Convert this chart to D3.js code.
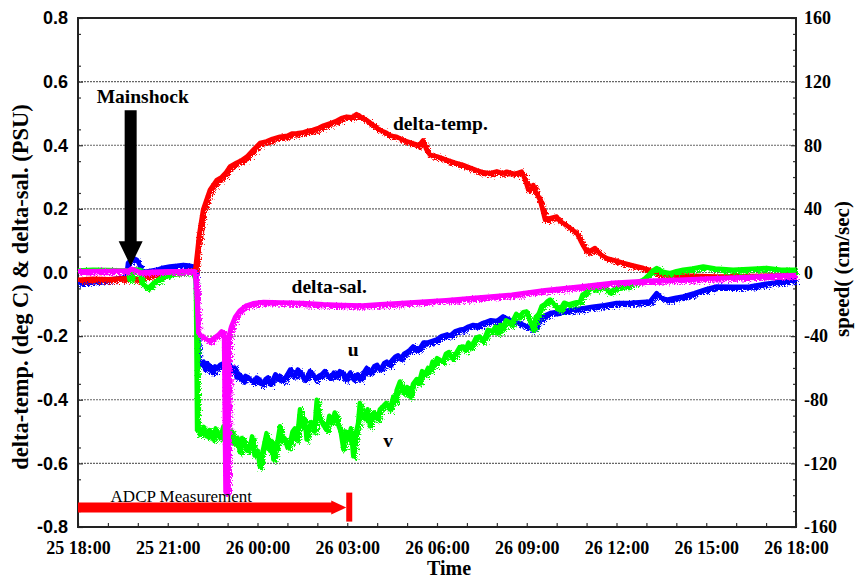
<html>
<head>
<meta charset="utf-8">
<script src="https://d3js.org/d3.v7.min.js"></script>
<style>
  body { margin: 0; background: #fff; }
</style>
</head>
<body>
<svg id="chart" width="855" height="578"></svg>
<script>
// hours after 25 18:00
const timeLabels = ["25 18:00", "25 21:00", "26 00:00", "26 03:00", "26 06:00",
                    "26 09:00", "26 12:00", "26 15:00", "26 18:00"];
const leftTicks = [-0.8, -0.6, -0.4, -0.2, 0.0, 0.2, 0.4, 0.6, 0.8];
const rightTicks = [-160, -120, -80, -40, 0, 40, 80, 120, 160];
const gridTicks = [-0.6, -0.4, -0.2, 0.0, 0.2, 0.4, 0.6];

// delta-temp (deg C)
const tempData = [[0,-0.023],[0.5,-0.02],[1,-0.021],[1.5,-0.018],[1.7,-0.02],[1.8,-0.016],[2.0,-0.022],[2.3,-0.01],[3.0,-0.002],[3.5,0.003],[3.85,0.006],[3.92,0.01],
  [3.98,0.06],[4.05,0.12],[4.1,0.15],[4.18,0.197],[4.3,0.23],[4.41,0.26],[4.52,0.275],[4.63,0.29],[4.8,0.3],[4.95,0.315],[5.08,0.333],[5.3,0.345],[5.45,0.352],[5.64,0.364],[5.85,0.385],
  [6.08,0.407],[6.3,0.412],[6.5,0.42],[6.75,0.427],[7.0,0.43],[7.15,0.437],[7.31,0.438],[7.5,0.44],[7.7,0.446],[7.85,0.448],[8.05,0.455],[8.2,0.462],[8.42,0.469],[8.6,0.475],[8.8,0.485],
  [8.98,0.49],[9.15,0.488],[9.31,0.498],[9.45,0.49],[9.65,0.479],[9.85,0.465],[10.09,0.448],[10.3,0.44],[10.45,0.43],[10.65,0.427],[10.9,0.415],[11.2,0.406],[11.4,0.4],[11.53,0.415],
  [11.65,0.385],[11.76,0.37],[12.0,0.365],[12.32,0.354],[12.6,0.345],[12.87,0.338],[13.1,0.33],[13.32,0.322],[13.55,0.315],[13.77,0.312],[14.0,0.318],[14.2,0.312],[14.33,0.317],
  [14.6,0.31],[14.83,0.317],[14.95,0.29],[15.05,0.26],[15.15,0.262],[15.22,0.275],[15.32,0.25],[15.44,0.228],[15.52,0.2],[15.61,0.166],[15.75,0.17],[16.0,0.176],[16.1,0.162],
  [16.22,0.155],[16.45,0.14],[16.67,0.124],[16.85,0.09],[17.0,0.066],[17.15,0.07],[17.28,0.077],[17.45,0.058],[17.67,0.045],[17.95,0.038],[18.23,0.03],[18.55,0.022],[18.9,0.014],
  [19.1,0.008],[19.34,-0.002],[19.8,-0.008],[20.5,-0.01],[21.35,-0.0125],[22.5,-0.011],[23.5,-0.009],[24,-0.007]];

// delta-sal (PSU)
const salData = [[0,0.004],[1.0,0.005],[1.7,0.006],[1.78,0.012],[1.9,0.008],[2.1,0.0],[2.5,0.002],[3.0,0.004],[3.9,0.004],[3.96,-0.05],[4.02,-0.19],[4.13,-0.2],[4.3,-0.21],
  [4.4,-0.217],[4.55,-0.205],[4.7,-0.195],[4.8,-0.185],[4.88,-0.19],[4.93,-0.69],[5.0,-0.69],[5.04,-0.2],[5.12,-0.17],[5.25,-0.14],[5.4,-0.12],[5.6,-0.105],[5.85,-0.097],
  [6.2,-0.093],[6.8,-0.094],[7.5,-0.096],[8.2,-0.1],[8.8,-0.102],[9.5,-0.104],[10.1,-0.1],[10.7,-0.097],[11.5,-0.092],[12.3,-0.087],[13.2,-0.08],[14.5,-0.07],[15.6,-0.056],
  [16.8,-0.044],[17.9,-0.032],[19.1,-0.026],[20.3,-0.022],[21.3,-0.018],[22.6,-0.013],[24,-0.008]];

// u (cm/sec)
const uData = [[0,-6.5],[0.5,-5.5],[1.0,-4.5],[1.5,-3.3],[1.62,-2],[1.67,6],[1.84,9],[1.97,8],[2.05,5],[2.13,0.6],[2.3,0.6],[2.63,1.7],[2.85,3],[3.07,3.8],[3.3,4.2],[3.52,4.8],
  [3.7,4.4],[3.85,3.8],[3.93,2],[3.98,-40],[4.02,-55],[4.08,-57],[4.13,-58],[4.2,-56],[4.25,-61],[4.32,-57],[4.4,-59],[4.46,-62],[4.52,-63],[4.58,-59],[4.65,-60],[4.75,-58],
  [4.86,-57],[4.95,-59],[5.02,-56],[5.08,-58],[5.14,-61],[5.2,-62],[5.25,-60],[5.3,-66],[5.4,-64],[5.5,-68],[5.6,-65],[5.7,-66],[5.8,-68],[5.9,-69],[5.97,-66],[6.05,-67],
  [6.12,-70],[6.19,-69.5],[6.27,-67],[6.35,-66],[6.42,-70],[6.5,-68],[6.6,-64],[6.68,-67],[6.75,-65],[6.82,-68],[6.9,-67],[7.0,-64],[7.09,-61],[7.16,-64],[7.25,-65],[7.35,-61],
  [7.45,-63],[7.55,-67],[7.65,-66],[7.75,-62],[7.86,-64],[7.95,-67],[8.05,-65],[8.15,-64],[8.25,-62],[8.35,-65],[8.45,-66],[8.55,-63],[8.65,-65],[8.75,-62],[8.85,-63],[8.92,-67],
  [9.0,-66],[9.1,-63],[9.2,-67],[9.28,-65],[9.35,-64],[9.42,-67],[9.5,-65],[9.58,-62],[9.65,-60],[9.72,-63],[9.8,-62],[9.9,-59],[10.0,-58],[10.08,-61],[10.15,-60],[10.23,-57],
  [10.32,-56],[10.4,-58],[10.5,-55],[10.6,-53],[10.7,-52],[10.8,-54],[10.9,-51],[11.0,-50],[11.1,-48.5],[11.2,-46.5],[11.3,-49],[11.45,-47],[11.55,-44],[11.7,-44],[11.85,-43],
  [12.0,-42],[12.15,-40],[12.32,-39],[12.45,-39.5],[12.6,-37],[12.75,-36],[12.9,-35.5],[13.05,-34],[13.21,-33],[13.35,-33.5],[13.5,-32],[13.65,-31],[13.8,-30],[14.0,-30.5],
  [14.21,-27.6],[14.35,-29],[14.55,-30.8],[14.8,-32],[15.0,-34],[15.22,-36],[15.4,-30],[15.6,-27],[15.78,-25.5],[16.1,-24.5],[16.5,-23.5],[16.89,-22.4],[17.2,-21.5],[17.6,-20.5],
  [18.0,-19.2],[18.5,-19],[19.12,-18.2],[19.34,-12.9],[19.5,-16],[19.68,-17.1],[19.95,-16],[20.23,-15.1],[20.6,-13],[21.0,-10.5],[21.35,-8.8],[21.9,-9],[22.46,-8.8],[23.0,-7],
  [23.57,-5.7],[24,-4.6]];

// v (cm/sec)
const vData = [[0,1.3],[0.5,1.8],[1.0,1.5],[1.5,1.2],[1.67,1.3],[1.72,-4.6],[1.8,-4],[1.85,2],[2.07,1.7],[2.13,-6.7],[2.35,-9.8],[2.52,-6.7],[2.85,-2.5],[3.07,-0.4],[3.3,0.2],
  [3.52,0.6],[3.7,0.2],[3.85,-0.4],[3.94,-5],[3.98,-99],[4.02,-96],[4.08,-102],[4.13,-101],[4.2,-97],[4.3,-103],[4.4,-99],[4.52,-105],[4.6,-98],[4.65,-100],[4.75,-104],
  [4.86,-96.7],[4.92,-101],[4.97,-99],[5.03,-108],[5.08,-105],[5.15,-100],[5.25,-108],[5.33,-104],[5.41,-113],[5.48,-104],[5.55,-106],[5.65,-112],[5.75,-109],[5.82,-103],
  [5.9,-115],[6.0,-112],[6.08,-122],[6.14,-115],[6.2,-110],[6.3,-101],[6.36,-109],[6.42,-112],[6.48,-106],[6.53,-117.6],[6.6,-112],[6.65,-108],[6.75,-96.7],[6.82,-106],
  [6.9,-104],[7.0,-110],[7.09,-107],[7.17,-100],[7.25,-98],[7.32,-105],[7.42,-86],[7.47,-95],[7.52,-97],[7.58,-92],[7.64,-105],[7.72,-98],[7.8,-94],[7.9,-100],[7.98,-80],
  [8.04,-90],[8.1,-92],[8.2,-96],[8.31,-99],[8.4,-90],[8.5,-94],[8.58,-88],[8.65,-92.5],[8.72,-97],[8.78,-100],[8.87,-111],[8.95,-100],[9.05,-104],[9.12,-98],[9.2,-115.6],
  [9.25,-106],[9.3,-100],[9.36,-95],[9.42,-82],[9.5,-90],[9.6,-92],[9.68,-86],[9.76,-96.7],[9.83,-90],[9.9,-88],[10.0,-92],[10.09,-86],[10.2,-84],[10.3,-82],[10.42,-86],
  [10.54,-78],[10.6,-81],[10.65,-74],[10.76,-68.5],[10.83,-74],[10.9,-76],[11.0,-72],[11.1,-78],[11.2,-70],[11.32,-67],[11.4,-69],[11.5,-62],[11.6,-64],[11.7,-60],[11.78,-61],
  [11.85,-56],[11.92,-58],[12.0,-53.8],[12.1,-55],[12.2,-56],[12.3,-51],[12.4,-50],[12.5,-54],[12.6,-52],[12.75,-47],[12.88,-46.5],[12.95,-49],[13.05,-44],[13.12,-47],[13.2,-45],
  [13.3,-41],[13.43,-40.2],[13.52,-43],[13.6,-41],[13.7,-36],[13.85,-37],[13.95,-34],[14.05,-38],[14.12,-33],[14.21,-35],[14.3,-30],[14.4,-31],[14.48,-33],[14.55,-29.7],
  [14.65,-26],[14.75,-28],[14.88,-25],[15.0,-24.5],[15.1,-30],[15.22,-36],[15.3,-28],[15.4,-26],[15.5,-21],[15.6,-20],[15.7,-18],[15.78,-17],[15.87,-19],[15.95,-21],
  [16.11,-23.4],[16.25,-19],[16.4,-20],[16.6,-19],[16.78,-18.2],[16.86,-14],[16.95,-13],[17.03,-10],[17.11,-8.8],[17.25,-10],[17.4,-10],[17.6,-9],[17.75,-12],[17.89,-11],
  [18.05,-9],[18.2,-8],[18.35,-8.5],[18.5,-7],[18.7,-6],[18.9,-4.6],[19.1,-1],[19.2,1],[19.34,2.8],[19.55,0.5],[19.79,-0.4],[20.0,0.8],[20.23,1.7],[20.55,2.5],[20.9,3.8],
  [21.3,2.5],[21.9,1.7],[22.4,2.2],[23.02,2.8],[23.5,1.8],[24,1.7]];

const mainshockHour = 1.76;
const adcpEndHour = 9;

const svg = d3.select('svg#chart');
const plotL = 78, plotR = 796, plotT = 18, plotB = 527;

const x = d3.scaleLinear().domain([0, 24]).range([plotL, plotR]);
const yL = d3.scaleLinear().domain([-0.8, 0.8]).range([plotB, plotT]);
const yR = d3.scaleLinear().domain([-160, 160]).range([plotB, plotT]);

const serif = '"Liberation Serif", "Times New Roman", serif';
const sans = '"Liberation Sans", Arial, sans-serif';
const fmt1 = d => (d < 0 ? '-' : '') + Math.abs(d).toFixed(1);

// rough edges for the recorded traces: a displaced copy merged under the solid stroke
const defs = svg.append('defs');
const rough = defs.append('filter').attr('id', 'rough')
  .attr('filterUnits', 'userSpaceOnUse').attr('x', 0).attr('y', 0).attr('width', 855).attr('height', 578);
rough.append('feTurbulence').attr('type', 'turbulence').attr('baseFrequency', '0.8 0.6')
  .attr('numOctaves', 2).attr('seed', 3).attr('result', 'noise');
rough.append('feDisplacementMap').attr('in', 'SourceGraphic').attr('in2', 'noise')
  .attr('scale', 7).attr('xChannelSelector', 'R').attr('yChannelSelector', 'G').attr('result', 'shifted');
const merge = rough.append('feMerge');
merge.append('feMergeNode').attr('in', 'shifted');
merge.append('feMergeNode').attr('in', 'SourceGraphic');

// grid lines
svg.append('g').selectAll('line').data(gridTicks).join('line')
  .attr('x1', plotL).attr('x2', plotR)
  .attr('y1', d => yL(d)).attr('y2', d => yL(d))
  .attr('stroke', '#666').attr('stroke-width', 1.2).attr('stroke-dasharray', '2,1');

// axes
const xAxis = d3.axisBottom(x).tickValues(d3.range(0, 25)).tickSize(-4).tickPadding(14)
  .tickFormat(d => d % 3 === 0 ? timeLabels[d / 3] : '');
const gx = svg.append('g').attr('transform', `translate(0,${plotB})`).call(xAxis);
gx.selectAll('text').attr('font-family', serif).attr('font-weight', 'bold').attr('font-size', 18).attr('fill', '#000');

const yAxisL = d3.axisLeft(yL).tickValues(leftTicks).tickSize(-5).tickPadding(10).tickFormat(fmt1);
const gl = svg.append('g').attr('transform', `translate(${plotL},0)`).call(yAxisL);
gl.selectAll('text').attr('font-family', sans).attr('font-weight', 'bold').attr('font-size', 18).attr('fill', '#000');
svg.append('g').attr('transform', `translate(${plotL},0)`)
  .call(d3.axisLeft(yL).tickValues(d3.range(-0.75, 0.8, 0.1)).tickSize(-3).tickFormat(''));

const yAxisR = d3.axisRight(yR).tickValues(rightTicks).tickSize(-5).tickPadding(8)
  .tickFormat(d => (d < 0 ? '-' : '') + Math.abs(d));
const gr = svg.append('g').attr('transform', `translate(${plotR},0)`).call(yAxisR);
gr.selectAll('text').attr('font-family', serif).attr('font-weight', 'bold').attr('font-size', 18).attr('fill', '#000');
svg.append('g').attr('transform', `translate(${plotR},0)`)
  .call(d3.axisRight(yR).tickValues(d3.range(-150, 160, 10).filter(d => d % 40 !== 0)).tickSize(-3).tickFormat(''));

svg.selectAll('.domain').remove();
svg.selectAll('.tick line').attr('stroke', '#333').attr('stroke-width', 1.2);

// frame
svg.append('rect').attr('x', plotL).attr('y', plotT).attr('width', plotR - plotL).attr('height', plotB - plotT)
  .attr('fill', 'none').attr('stroke', '#222').attr('stroke-width', 2);

// series
const lineL = d3.line().x(d => x(d[0])).y(d => yL(d[1]));
const lineR = d3.line().x(d => x(d[0])).y(d => yR(d[1]));
const series = [
  {data: uData, gen: lineR, color: '#0000ff'},
  {data: tempData, gen: lineL, color: '#ff0000'},
  {data: vData, gen: lineR, color: '#00ff00'},
  {data: salData, gen: lineL, color: '#ff00ff'}
];
series.forEach(s => {
  svg.append('path').attr('d', s.gen(s.data)).attr('filter', 'url(#rough)')
    .attr('fill', 'none').attr('stroke', s.color).attr('stroke-width', 4.5)
    .attr('stroke-linejoin', 'round');
});

// mainshock arrow
const tipX = x(mainshockHour), tipY = yL(0.02), shaftTop = yL(0.51);
svg.append('path')
  .attr('d', `M${tipX - 6},${shaftTop} L${tipX + 6},${shaftTop} L${tipX + 6},${tipY - 25} L${tipX + 12},${tipY - 25}
              L${tipX},${tipY} L${tipX - 12},${tipY - 25} L${tipX - 6},${tipY - 25} Z`)
  .attr('fill', '#000');

// ADCP measurement arrow
const ay = yL(-0.739);
const ax1 = x(adcpEndHour) - 1;
svg.append('path')
  .attr('d', `M${x(0)},${ay - 5} L${ax1 - 15},${ay - 5} L${ax1 - 15},${ay - 7} L${ax1},${ay}
              L${ax1 - 15},${ay + 7} L${ax1 - 15},${ay + 5} L${x(0)},${ay + 5} Z`)
  .attr('fill', '#ff0000');
svg.append('rect').attr('x', ax1).attr('y', ay - 15).attr('width', 6).attr('height', 29).attr('fill', '#ff0000');

// text labels
const labels = [
  {t: 'Mainshock', h: 0.625, v: 0.533, bold: true, size: 19.5},
  {t: 'delta-temp.', h: 10.53, v: 0.448, bold: true, size: 19.5},
  {t: 'delta-sal.', h: 7.14, v: -0.065, bold: true, size: 19.5},
  {t: 'u', h: 9.02, v: -0.264, bold: true, size: 19.5},
  {t: 'v', h: 10.2, v: -0.547, bold: true, size: 19.5},
  {t: 'ADCP Measurement', h: 1.09, v: -0.72, bold: false, size: 17}
];
svg.append('g').selectAll('text').data(labels).join('text')
  .attr('x', d => x(d.h)).attr('y', d => yL(d.v))
  .attr('font-family', serif).attr('font-weight', d => d.bold ? 'bold' : 'normal')
  .attr('font-size', d => d.size).text(d => d.t);

// axis titles
svg.append('text').attr('x', (plotL + plotR) / 2 + 12).attr('y', 575)
  .attr('text-anchor', 'middle').attr('font-family', serif).attr('font-weight', 'bold')
  .attr('font-size', 20).text('Time');
svg.append('text').attr('transform', 'translate(28,287) rotate(-90)')
  .attr('text-anchor', 'middle').attr('font-family', serif).attr('font-weight', 'bold')
  .attr('font-size', 22.5).text('delta-temp. (deg C) & delta-sal. (PSU)');
svg.append('text').attr('transform', 'translate(849,269) rotate(-90)')
  .attr('text-anchor', 'middle').attr('font-family', serif).attr('font-weight', 'bold')
  .attr('font-size', 21).text('speed( (cm/sec)');
</script>
</body>
</html>
